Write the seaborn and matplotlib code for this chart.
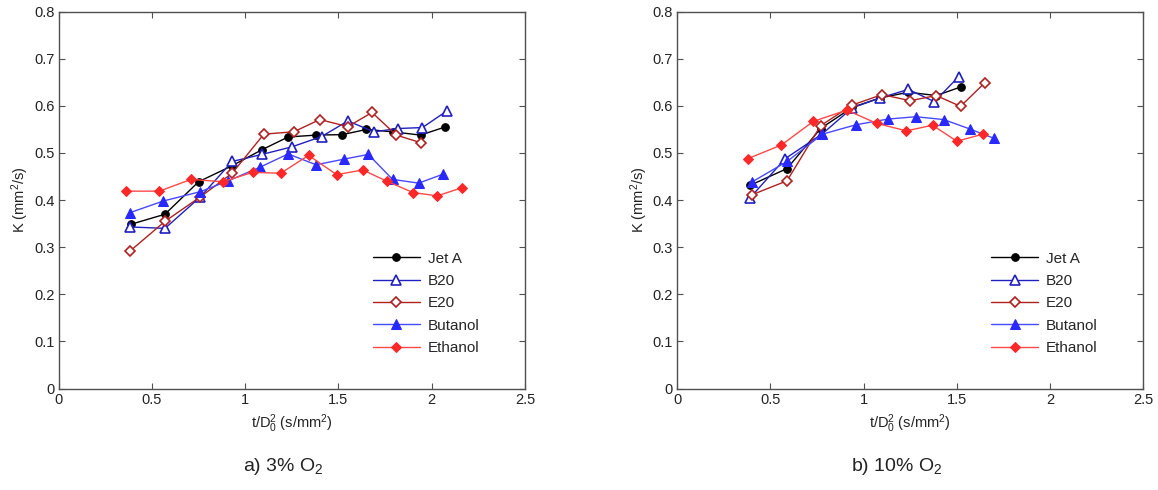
import matplotlib
matplotlib.use("Agg")
import matplotlib.pyplot as plt
import seaborn as sns
import numpy as np

# ---------------- data: a) 3% O2 ----------------
a_jeta_x = [0.39, 0.57, 0.75, 0.93, 1.09, 1.23, 1.38, 1.52, 1.65, 1.79, 1.94, 2.07]
a_jeta_y = [0.349, 0.370, 0.439, 0.473, 0.507, 0.534, 0.538, 0.539, 0.550, 0.545, 0.538, 0.555]
a_b20_x = [0.38, 0.57, 0.76, 0.93, 1.09, 1.25, 1.41, 1.55, 1.69, 1.82, 1.95, 2.08]
a_b20_y = [0.343, 0.340, 0.407, 0.482, 0.497, 0.513, 0.535, 0.568, 0.545, 0.552, 0.554, 0.589]
a_e20_x = [0.38, 0.57, 0.76, 0.93, 1.10, 1.26, 1.40, 1.55, 1.68, 1.81, 1.94]
a_e20_y = [0.291, 0.355, 0.407, 0.457, 0.540, 0.545, 0.571, 0.556, 0.586, 0.538, 0.522]
a_but_x = [0.38, 0.56, 0.76, 0.91, 1.08, 1.23, 1.38, 1.53, 1.66, 1.79, 1.93, 2.06]
a_but_y = [0.373, 0.398, 0.418, 0.441, 0.470, 0.498, 0.475, 0.487, 0.497, 0.444, 0.436, 0.455]
a_eth_x = [0.36, 0.54, 0.71, 0.88, 1.04, 1.19, 1.34, 1.49, 1.63, 1.76, 1.90, 2.03, 2.16]
a_eth_y = [0.419, 0.419, 0.444, 0.439, 0.459, 0.457, 0.495, 0.454, 0.464, 0.440, 0.416, 0.409, 0.426]

# ---------------- data: b) 10% O2 ----------------
b_jeta_x = [0.39, 0.59, 0.77, 0.94, 1.09, 1.24, 1.39, 1.52]
b_jeta_y = [0.431, 0.467, 0.552, 0.597, 0.617, 0.629, 0.622, 0.640]
b_b20_x = [0.39, 0.58, 0.78, 0.94, 1.09, 1.24, 1.38, 1.51]
b_b20_y = [0.404, 0.488, 0.541, 0.596, 0.617, 0.635, 0.609, 0.662]
b_e20_x = [0.40, 0.59, 0.77, 0.94, 1.10, 1.25, 1.39, 1.52, 1.65]
b_e20_y = [0.411, 0.441, 0.558, 0.602, 0.624, 0.611, 0.622, 0.599, 0.649]
b_but_x = [0.40, 0.59, 0.78, 0.96, 1.13, 1.28, 1.43, 1.57, 1.70]
b_but_y = [0.438, 0.482, 0.540, 0.560, 0.572, 0.577, 0.571, 0.551, 0.531]
b_eth_x = [0.38, 0.56, 0.73, 0.91, 1.07, 1.23, 1.37, 1.50, 1.64]
b_eth_y = [0.488, 0.517, 0.567, 0.591, 0.563, 0.547, 0.559, 0.525, 0.540]

labels = ["Jet A", "B20", "E20", "Butanol", "Ethanol"]
x_ticks = [0, 0.5, 1, 1.5, 2, 2.5]
x_tick_labels = ["0", "0.5", "1", "1.5", "2", "2.5"]
y_ticks = [0, 0.1, 0.2, 0.3, 0.4, 0.5, 0.6, 0.7, 0.8]
y_tick_labels = ["0", "0.1", "0.2", "0.3", "0.4", "0.5", "0.6", "0.7", "0.8"]
captions = ["a) 3% O$_2$", "b) 10% O$_2$"]

sns.set_theme(style="white")
plt.rcParams["font.family"] = ["Liberation Sans", "DejaVu Sans"]
plt.rcParams["mathtext.fontset"] = "custom"
plt.rcParams["mathtext.rm"] = "Liberation Sans"
plt.rcParams["mathtext.it"] = "Liberation Sans"

styles = [
    dict(color="black", marker="o", markerfacecolor="black", markeredgecolor="black", markersize=5.5, lw=1.0),
    dict(color="#2020C0", marker="^", markerfacecolor="white", markeredgecolor="#2020C0", markersize=6.5, lw=1.0, markeredgewidth=1.2),
    dict(color="#B02020", marker="D", markerfacecolor="white", markeredgecolor="#B02020", markersize=5, lw=1.0, markeredgewidth=1.2),
    dict(color="#4848FF", marker="^", markerfacecolor="#2828FF", markeredgecolor="#2828FF", markersize=6.5, lw=1.0),
    dict(color="#FF4848", marker="D", markerfacecolor="#FF2828", markeredgecolor="#FF2828", markersize=5, lw=1.0),
]

fig = plt.figure(figsize=(11.58, 4.9), dpi=100)
W, H = 1158, 490
ax_a = fig.add_axes([58.7 / W, (H - 388.5) / H, (525 - 58.7) / W, (388.5 - 11.7) / H])
ax_b = fig.add_axes([677 / W, (H - 388.5) / H, (1143.3 - 677) / W, (388.5 - 11.7) / H])

series_a = [(a_jeta_x, a_jeta_y), (a_b20_x, a_b20_y), (a_e20_x, a_e20_y), (a_but_x, a_but_y), (a_eth_x, a_eth_y)]
series_b = [(b_jeta_x, b_jeta_y), (b_b20_x, b_b20_y), (b_e20_x, b_e20_y), (b_but_x, b_but_y), (b_eth_x, b_eth_y)]

spine_col = "#505050"
for ax, series, cap, cx in [(ax_a, series_a, captions[0], 283 / W), (ax_b, series_b, captions[1], 897 / W)]:
    for (xs, ys), lab, st in zip(series, labels, styles):
        sns.lineplot(x=xs, y=ys, ax=ax, label=lab, sort=False, estimator=None, **st)
    ax.set_xlim(0, 2.5)
    ax.set_ylim(0, 0.8)
    ax.set_xticks(x_ticks)
    ax.set_xticklabels(x_tick_labels)
    ax.set_yticks(y_ticks)
    ax.set_yticklabels(y_tick_labels)
    ax.tick_params(direction="in", length=4, width=0.8, color=spine_col, labelsize=10.5,
                   top=True, right=True, bottom=True, left=True, pad=3, labelcolor="#222222")
    for sp in ax.spines.values():
        sp.set_color(spine_col)
        sp.set_linewidth(1.0)
        sp.set_visible(True)
    ax.set_xlabel("t/D$_0^2$ (s/mm$^2$)", fontsize=10.5, color="#222222", labelpad=4)
    ax.set_ylabel("K (mm$^2$/s)", fontsize=10.5, color="#222222", labelpad=2)
    leg = ax.legend(loc="lower right", bbox_to_anchor=(0.925, 0.06), frameon=False, fontsize=11,
                    handlelength=3.1, handletextpad=0.5, labelspacing=0.55, borderaxespad=0.3)
    fig.text(cx, 24 / H, cap, ha="center", va="center", fontsize=14, color="#222222")

fig.savefig("out.png", dpi=100, facecolor="white")
